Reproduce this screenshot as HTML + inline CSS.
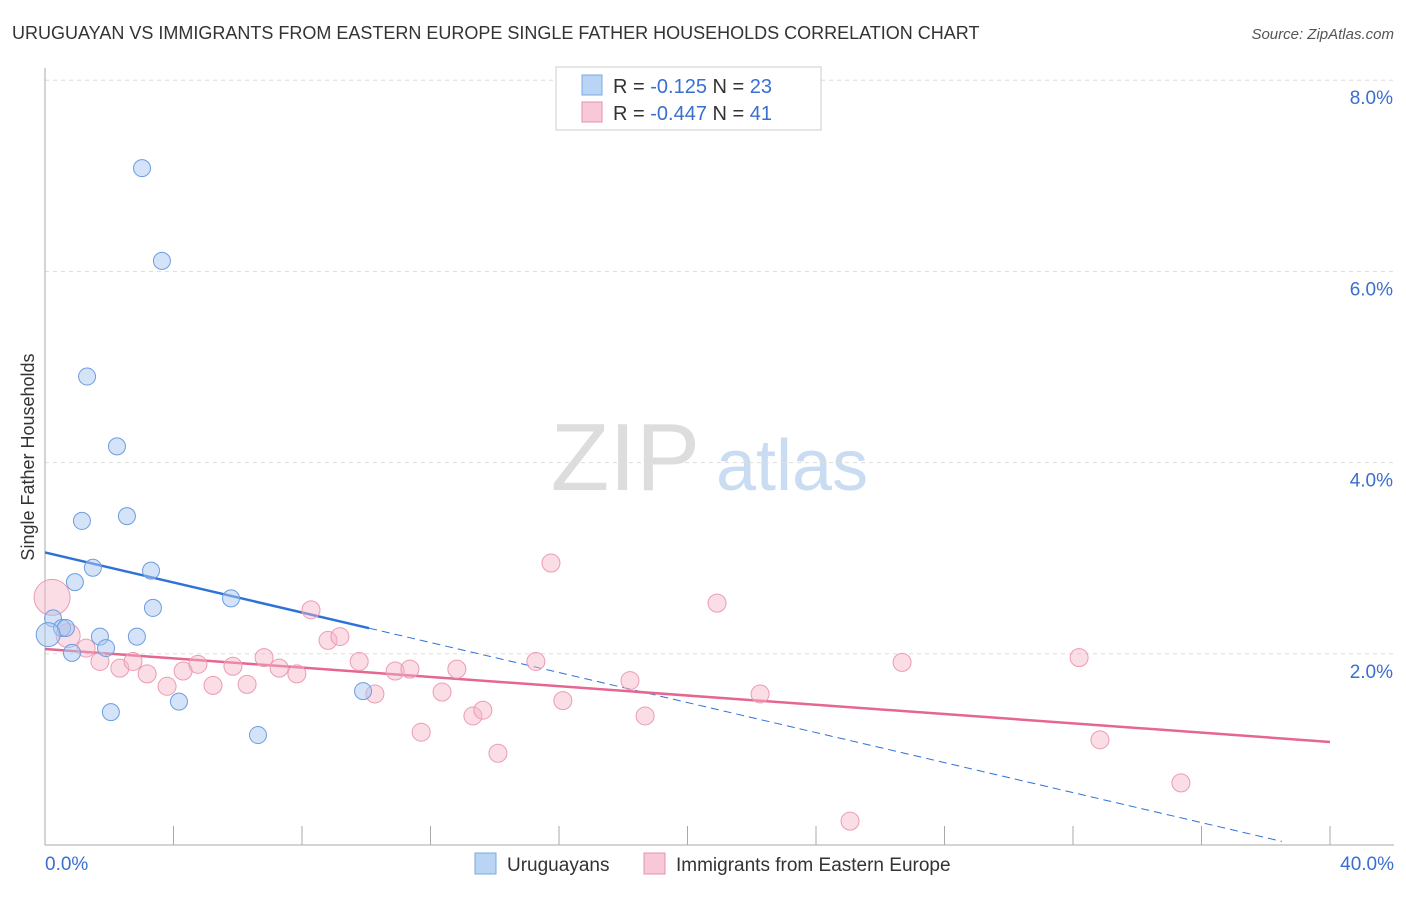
<!DOCTYPE html>
<html><head><meta charset="utf-8"><style>
body{margin:0;background:#fff;font-family:"Liberation Sans",sans-serif;}
svg text{font-family:"Liberation Sans",sans-serif;}
</style></head><body>
<svg id="chart" width="1406" height="892" viewBox="0 0 1406 892">
<text x="12" y="39" font-size="18" fill="#333">URUGUAYAN VS IMMIGRANTS FROM EASTERN EUROPE SINGLE FATHER HOUSEHOLDS CORRELATION CHART</text>
<text x="1394" y="39" font-size="15" fill="#555" font-style="italic" text-anchor="end">Source: ZipAtlas.com</text>
<text x="700" y="490" font-size="96" fill="#ddd" text-anchor="end" font-family="Liberation Serif">ZIP</text>
<text x="716" y="490" font-size="72" fill="#c9dcf2">atlas</text>
<g id="grid"></g>
<g id="axes"></g>
<text transform="translate(34,457) rotate(-90)" font-size="18" fill="#333" text-anchor="middle">Single Father Households</text>
<g id="lines"></g>
<g id="points"></g>
<g>
<rect x="556" y="67" width="265" height="63" fill="#fff" stroke="#ccc"/>
<rect x="582" y="75" width="20" height="20" fill="#b9d4f5" stroke="#7aa8e0"/>
<rect x="582" y="102" width="20" height="20" fill="#f9c8d6" stroke="#e890ac"/>
<text x="613" y="93" font-size="20" fill="#333">R = <tspan fill="#3a6fd0">-0.125</tspan>   N = <tspan fill="#3a6fd0">23</tspan></text>
<text x="613" y="120" font-size="20" fill="#333">R = <tspan fill="#3a6fd0">-0.447</tspan>   N = <tspan fill="#3a6fd0"> 41</tspan></text>
</g>
<g>
<rect x="475" y="853" width="21" height="21" fill="#b9d4f5" stroke="#7aa8e0"/>
<text x="507" y="871" font-size="19" fill="#333">Uruguayans</text>
<rect x="644" y="853" width="21" height="21" fill="#f9c8d6" stroke="#e890ac"/>
<text x="676" y="871" font-size="19" fill="#333">Immigrants from Eastern Europe</text>
</g>
</svg>
<script>
const yTicks=[2,4,6,8];
const yTickLabels=["2.0%","4.0%","6.0%","8.0%"];
const xTickLabels=["0.0%","40.0%"];
const blueX=[3.02,3.64,1.31,2.24,1.15,2.55,1.49,3.30,0.93,5.79,3.36,0.25,0.53,0.65,0.1,1.71,2.86,1.90,0.84,9.90,4.17,2.05,6.63];
const blueY=[7.08,6.11,4.90,4.17,3.39,3.44,2.90,2.87,2.75,2.58,2.48,2.37,2.27,2.27,2.2,2.18,2.18,2.06,2.01,1.61,1.50,1.39,1.15];
const pinkX=[0.22,0.72,1.28,1.71,2.33,2.74,3.18,3.80,4.30,4.76,5.23,5.85,6.29,6.82,7.29,7.84,8.28,8.81,9.18,9.78,10.27,10.90,11.36,11.71,12.36,12.82,13.32,13.63,14.10,15.28,15.75,16.12,18.21,18.68,20.92,22.26,25.06,26.68,32.19,32.84,35.36];
const pinkY=[2.59,2.19,2.06,1.92,1.85,1.92,1.79,1.66,1.82,1.89,1.67,1.87,1.68,1.96,1.85,1.79,2.46,2.14,2.18,1.92,1.58,1.82,1.84,1.18,1.60,1.84,1.35,1.41,0.96,1.92,2.95,1.51,1.72,1.35,2.53,1.58,0.25,1.91,1.96,1.10,0.65];
const pinkR=[18,12];
const blueTrend=[3.06,-0.0785];
const pinkTrend=[2.05,-0.0243];
const NS="http://www.w3.org/2000/svg";
const X=v=>45+v*1285/40, Y=v=>845-v*95.6;
function mk(tag,attrs,parent){const e=document.createElementNS(NS,tag);for(const k in attrs)e.setAttribute(k,attrs[k]);document.getElementById(parent).appendChild(e);return e;}
yTicks.forEach((t,i)=>{
 const g=mk('line',{x1:45,x2:1394,y1:Y(t),y2:Y(t),stroke:'#ddd','stroke-dasharray':'4,4'},'grid');
 
 
 const l=mk('text',{x:1393,y:Y(t)+24,'font-size':19,fill:'#3a6fd0','text-anchor':'end'},'axes');
 l.textContent=yTickLabels[i];
 
 
});
const ya=mk('line',{x1:45,x2:45,y1:68,y2:845,stroke:'#aaa'},'axes');


const xa=mk('line',{x1:45,x2:1394,y1:845,y2:845,stroke:'#aaa'},'axes');


for(let v=4;v<=40;v+=4){
 const t=mk('line',{x1:X(v),x2:X(v),y1:826,y2:845,stroke:'#aaa'},'axes');
 
 
}
[[0,'start',45],[40,'end',1394]].forEach((a,i)=>{
 const l=mk('text',{x:a[2],y:870,'font-size':19,fill:'#3a6fd0','text-anchor':a[1]},'axes');
 l.textContent=xTickLabels[i];
 
 
});
const bEnd=10.09;
const b1=mk('line',{x1:X(0),y1:Y(blueTrend[0]),x2:X(bEnd),y2:Y(blueTrend[0]+blueTrend[1]*bEnd),stroke:'#2f72d6','stroke-width':2.5},'lines');


const b2=mk('line',{x1:X(bEnd),y1:Y(blueTrend[0]+blueTrend[1]*bEnd),x2:X(38.5),y2:Y(blueTrend[0]+blueTrend[1]*38.5),stroke:'#2f72d6','stroke-width':1,'stroke-dasharray':'8,5'},'lines');


const p1=mk('line',{x1:X(0),y1:Y(pinkTrend[0]),x2:X(40),y2:Y(pinkTrend[0]+pinkTrend[1]*40),stroke:'#e5668f','stroke-width':2.5},'lines');


pinkX.forEach((x,i)=>{
 const c=mk('circle',{cx:X(x),cy:Y(pinkY[i]),r:pinkR[i]||9,fill:'rgba(246,180,200,0.45)',stroke:'#ec9bb5','stroke-width':1},'points');
 
 
});
blueX.forEach((x,i)=>{
 const c=mk('circle',{cx:X(x),cy:Y(blueY[i]),r:i==14?12:8.5,fill:'rgba(170,200,240,0.5)',stroke:'#6d9de0','stroke-width':1},'points');
 
 
});
</script>
</body></html>
